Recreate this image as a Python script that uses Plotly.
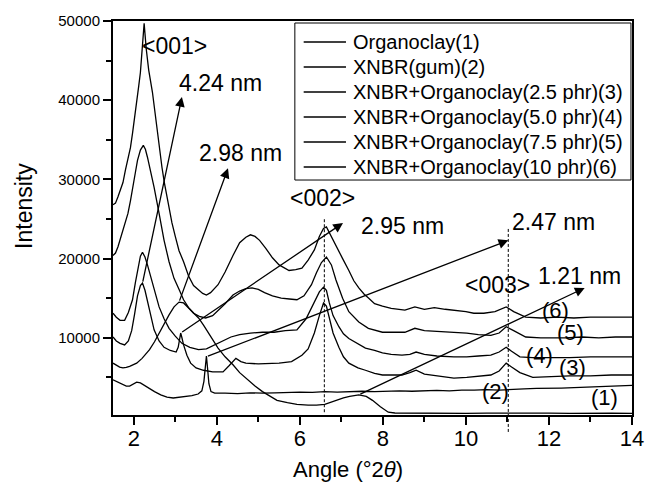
import plotly.graph_objects as go

# ---------------- data ----------------
names = ["Organoclay(1)", "XNBR(gum)(2)", "XNBR+Organoclay(2.5 phr)(3)",
         "XNBR+Organoclay(5.0 phr)(4)", "XNBR+Organoclay(7.5 phr)(5)",
         "XNBR+Organoclay(10 phr)(6)"]

x1 = [1.50,1.58,1.66,1.74,1.82,1.90,1.98,2.07,2.20,2.38,2.50,2.61,2.73,2.85,2.97,3.09,3.20,3.32,3.44,3.56,3.68,3.80,3.91,4.03,4.20,4.39,4.55,4.74,4.92,5.10,5.30,5.45,5.70,5.93,6.20,6.40,6.60,6.87,7.05,7.20,7.42,7.60,7.75,7.94,8.13,8.29,8.6,9.0,9.5,10.0,10.5,11.0,11.5,12.0,12.5,13.0,13.5,14.0]
y1 = [6800,6500,6300,6200,6250,6400,6600,6800,7400,8500,9500,10600,11800,12900,13900,14500,14400,13800,13200,12500,11600,10600,9600,8700,7600,6600,5600,4700,3900,3200,2600,2100,1800,1600,1500,1500,1600,2100,2400,2600,2800,2600,2100,1300,600,500,480,450,500,450,480,500,450,480,450,500,470,450]

x2 = [1.50,1.58,1.66,1.74,1.82,1.90,1.98,2.07,2.16,2.25,2.38,2.50,2.65,2.80,2.95,3.10,3.25,3.40,3.55,3.64,3.69,3.72,3.75,3.78,3.81,3.86,3.95,4.2,4.5,4.8,5.1,5.4,5.7,6.0,6.3,6.6,6.9,7.2,7.5,7.8,8.1,8.4,8.7,9.0,9.3,9.6,9.9,10.2,10.5,10.8,11.1,11.4,11.7,12.0,12.3,12.6,12.9,13.2,13.5,13.8,14.0]
y2 = [4700,4500,4300,4100,3900,3900,4100,4400,4300,4000,3600,3200,2800,2500,2400,2500,2600,2700,2900,3300,4500,6500,7700,6000,4200,3200,3000,3000,2950,3050,3000,3050,3100,3150,3100,3200,3150,3200,3250,3200,3250,3300,3250,3300,3350,3300,3400,3400,3450,3400,3500,3550,3600,3600,3650,3700,3750,3800,3850,3950,4000]

x3 = [1.50,1.58,1.67,1.78,1.87,1.95,2.02,2.09,2.16,2.21,2.27,2.33,2.41,2.49,2.61,2.73,2.88,3.02,3.07,3.11,3.13,3.16,3.20,3.28,3.37,3.50,3.68,3.90,4.15,4.30,4.46,4.58,4.70,5.00,5.50,5.80,6.05,6.20,6.35,6.47,6.57,6.64,6.71,6.80,6.94,7.05,7.18,7.40,7.58,7.80,7.99,8.20,8.46,8.65,8.80,9.00,9.30,9.71,10.02,10.30,10.60,10.80,10.97,11.10,11.30,11.61,12.00,12.50,13.00,13.50,14.00]
y3 = [10100,9600,9300,9100,9600,10900,13000,15300,16600,16900,16000,14600,12600,11000,9600,8800,8400,8200,8800,10000,10600,10000,9100,7800,6800,6200,5900,5700,5700,6500,7400,7000,6800,6700,6800,7000,7800,8600,10600,12800,14400,14000,12600,10600,8800,7600,6800,6200,5900,5500,5300,5300,5300,5600,5900,5400,5200,4900,5000,5100,5300,5800,6800,6300,5600,5000,5100,5200,5200,5300,5300]

x4 = [1.50,1.58,1.67,1.78,1.87,1.97,2.04,2.09,2.16,2.21,2.27,2.33,2.41,2.49,2.61,2.73,2.85,3.00,3.16,3.35,3.56,3.75,3.96,4.15,4.34,4.55,4.81,5.10,5.38,5.65,5.93,6.15,6.33,6.47,6.57,6.64,6.71,6.80,6.94,7.05,7.18,7.40,7.58,7.80,7.99,8.20,8.46,8.65,8.80,9.00,9.30,9.71,10.02,10.30,10.60,10.80,10.97,11.10,11.30,11.60,12.00,12.50,13.00,13.50,14.00]
y4 = [13100,12600,12200,12200,13200,14800,17000,18600,20300,20800,20200,19200,17600,16000,13900,12400,11200,10200,9300,8800,8500,8600,9100,9600,10100,10400,10600,10700,10700,10900,11000,12400,14200,15800,16400,16000,14400,12800,11400,10500,9900,9200,8700,8400,8100,7900,7800,7900,8200,7900,7700,7600,7600,7700,7800,8200,8800,8300,7600,7500,7500,7500,7600,7600,7600]

x5 = [1.50,1.56,1.62,1.71,1.78,1.86,1.92,1.97,2.04,2.09,2.16,2.23,2.28,2.33,2.41,2.49,2.61,2.73,2.85,2.97,3.10,3.20,3.32,3.44,3.58,3.73,3.90,4.05,4.20,4.39,4.55,4.70,4.85,5.00,5.15,5.34,5.55,5.75,5.93,6.10,6.28,6.40,6.52,6.64,6.76,6.87,7.03,7.18,7.42,7.65,7.99,8.25,8.53,8.77,9.00,9.30,9.71,10.02,10.30,10.60,10.80,10.97,11.15,11.44,11.80,12.39,12.80,13.20,13.60,14.00]
y5 = [20400,20700,21500,23200,24500,25700,27300,29000,30900,32400,33700,34300,33800,32800,31000,29000,25700,22300,19600,17500,16000,14800,13800,13100,12700,12500,12800,13500,14300,15400,15900,16200,16300,16100,15700,15300,15000,14900,14800,15300,16700,18200,19500,20200,19200,17300,15000,13300,12000,11200,10700,10700,10700,11200,10900,10800,10700,10600,10400,10300,10600,11400,10900,10100,10000,10000,10100,10000,10100,10100]

x6 = [1.50,1.56,1.62,1.68,1.74,1.80,1.86,1.92,1.97,2.02,2.07,2.12,2.16,2.20,2.25,2.30,2.36,2.45,2.51,2.57,2.63,2.68,2.74,2.80,2.86,2.92,3.00,3.09,3.20,3.32,3.44,3.56,3.66,3.75,3.85,4.03,4.20,4.39,4.55,4.70,4.81,4.92,5.03,5.18,5.34,5.50,5.74,5.90,6.05,6.20,6.35,6.47,6.57,6.64,6.71,6.80,6.87,6.95,7.03,7.18,7.30,7.42,7.55,7.66,7.80,7.99,8.20,8.53,8.77,9.00,9.24,9.50,9.71,10.00,10.19,10.43,10.70,10.97,11.15,11.44,11.80,12.20,12.60,13.00,13.50,14.00]
y6 = [26800,27000,27800,28600,29600,31200,32600,34000,35800,37600,39500,41800,43500,46500,49700,46500,43800,41000,38500,35500,33500,31500,29500,27700,26000,24500,22800,21000,19600,17800,16600,16000,15600,15400,15700,16700,18300,20400,22000,22700,23000,22800,22300,21300,20100,19200,18500,18600,18800,19800,21100,22800,23800,24000,23300,22400,21800,20800,20000,18500,17200,16300,15500,15000,14300,14000,13700,13500,13900,13600,13800,13600,13500,13300,13100,13100,13300,13900,13300,12600,12500,12600,12500,12600,12600,12600]

xs = [x1, x2, x3, x4, x5, x6]
ys = [y1, y2, y3, y4, y5, y6]

# arrows: tail -> head
arrow_tails_x = [2.21, 3.09, 3.13, 3.75, 7.42]
arrow_tails_y = [16900, 14500, 10600, 7600, 2800]
arrow_heads_x = [3.16, 4.27, 7.04, 11.02, 12.86]
arrow_heads_y = [40400, 31400, 24500, 22300, 16300]

label_texts = ["<001>", "4.24 nm", "2.98 nm", "<002>", "2.95 nm", "2.47 nm", "<003>", "1.21 nm"]
label_x = [2.97, 4.10, 4.58, 6.54, 8.48, 12.11, 10.77, 12.74]
label_y = [46900, 42200, 33300, 27600, 24100, 24600, 16700, 17800]

curve_tags = ["(6)", "(5)", "(4)", "(3)", "(2)", "(1)"]
tag_x = [12.15, 12.51, 11.77, 12.56, 10.71, 13.34]
tag_y = [13500, 10700, 7800, 6200, 3200, 2500]

peak_lines_x = [6.59, 11.02]

x_ticks = [2, 4, 6, 8, 10, 12, 14]
y_ticks = [10000, 20000, 30000, 40000, 50000]

FONT = "Liberation Sans, Arial, sans-serif"

fig = go.Figure()
for xv, yv, nm in zip(xs, ys, names):
    fig.add_trace(go.Scatter(x=xv, y=yv, mode="lines", name=nm, showlegend=False,
                             line=dict(color="black", width=1.3)))

annotations = []
shapes = []
for tx, ty, hx, hy in zip(arrow_tails_x, arrow_tails_y, arrow_heads_x, arrow_heads_y):
    annotations.append(dict(x=hx, y=hy, ax=tx, ay=ty, xref="x", yref="y",
                            axref="x", ayref="y", text="", showarrow=True,
                            arrowhead=2, arrowsize=1.5, arrowwidth=1.3,
                            arrowcolor="black", standoff=0, startstandoff=0))
for t, lx, ly in zip(label_texts, label_x, label_y):
    annotations.append(dict(x=lx, y=ly, xref="x", yref="y",
                            text=t.replace("<", "&lt;").replace(">", "&gt;"),
                            showarrow=False, font=dict(family=FONT, size=23, color="black"),
                            xanchor="center", yanchor="middle"))
for t, lx, ly in zip(curve_tags, tag_x, tag_y):
    annotations.append(dict(x=lx, y=ly, xref="x", yref="y", text=t,
                            showarrow=False, font=dict(family=FONT, size=22, color="black"),
                            xanchor="center", yanchor="middle"))
annotations.append(dict(x=-0.172, y=0.53, xref="paper", yref="paper", text="Intensity",
                        textangle=-90, showarrow=False, xanchor="center", yanchor="middle",
                        font=dict(family=FONT, size=23, color="black")))
annotations.append(dict(x=0.453, y=-0.139, xref="paper", yref="paper",
                        text="Angle (°2<i>θ</i>)", showarrow=False,
                        xanchor="center", yanchor="middle",
                        font=dict(family=FONT, size=22, color="black")))

# legend box (drawn to match the reference's compact layout)
leg_x0, leg_x1, leg_y0, leg_y1 = 0.3504, 0.998, 0.5964, 0.9949
shapes.append(dict(type="rect", xref="paper", yref="paper", x0=leg_x0, x1=leg_x1,
                   y0=leg_y0, y1=leg_y1, line=dict(color="black", width=1),
                   fillcolor="white", layer="above"))
row_y = [0.9467, 0.8832, 0.8198, 0.7563, 0.6929, 0.6294]
for nm, ry in zip(names, row_y):
    shapes.append(dict(type="line", xref="paper", yref="paper", x0=0.3674, x1=0.4489,
                       y0=ry, y1=ry, line=dict(color="black", width=1.3), layer="above"))
    annotations.append(dict(x=0.4583, y=ry, xref="paper", yref="paper", text=nm,
                            showarrow=False, xanchor="left", yanchor="middle",
                            font=dict(family=FONT, size=20, color="black")))

shapes += [
    dict(type="line", xref="x", yref="y", x0=peak_lines_x[0], x1=peak_lines_x[0],
         y0=600, y1=25200, line=dict(color="black", width=1, dash="3px,2px")),
    dict(type="line", xref="x", yref="paper", x0=peak_lines_x[1], x1=peak_lines_x[1],
         y0=-0.043, y1=0.475, line=dict(color="black", width=1, dash="3px,2px")),
]

fig.update_layout(
    width=656, height=486,
    margin=dict(l=113, r=15, t=21, b=71),
    paper_bgcolor="white", plot_bgcolor="white",
    font=dict(family=FONT, color="black"),
    annotations=annotations, shapes=shapes,
    showlegend=False,
    xaxis=dict(range=[1.5, 14], tickvals=x_ticks, ticks="outside", ticklen=8, tickwidth=2,
               tickcolor="black", showline=True, linecolor="black", linewidth=2, mirror=True,
               showgrid=False, zeroline=False, ticklabelstandoff=-5,
               tickfont=dict(family=FONT, size=22, color="black"),
               minor=dict(dtick=1, ticks="outside", ticklen=5, tickwidth=1.5, tickcolor="black", showgrid=False)),
    yaxis=dict(range=[250, 50000], tickvals=y_ticks, ticktext=[str(v) for v in y_ticks],
               ticks="outside", ticklen=8, tickwidth=2,
               tickcolor="black", showline=True, linecolor="black", linewidth=2, mirror=True,
               showgrid=False, zeroline=False,
               tickfont=dict(family=FONT, size=15, color="black"),
               minor=dict(dtick=5000, ticks="outside", ticklen=5, tickwidth=1.5, tickcolor="black", showgrid=False)),
)

fig.write_html("out.html")
